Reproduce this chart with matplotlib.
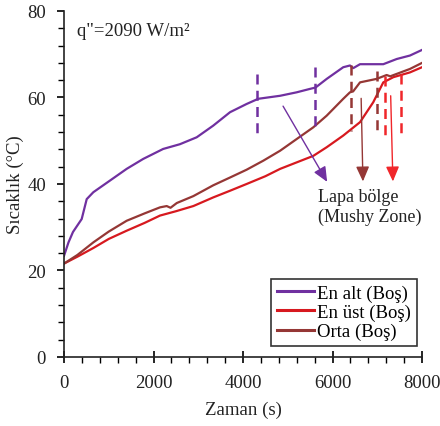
import matplotlib
matplotlib.use("Agg")
import matplotlib.pyplot as plt
from matplotlib.ticker import MultipleLocator

plt.rcParams['font.family'] = ['Liberation Serif', 'DejaVu Serif']

# En alt (Boş) - purple
t_alt = [0, 100, 200, 395, 507, 655, 1028, 1400, 1770, 2215, 2590, 2965, 3335, 3710, 4080,
         4340, 4830, 5200, 5500, 5620, 5870, 6240, 6390, 6465, 6615, 7135, 7435, 7730, 8000]
T_alt = [23.4, 26.5, 28.9, 31.9, 36.5, 38.1, 40.8, 43.5, 45.8, 48.1, 49.2, 50.8, 53.5, 56.6, 58.5,
         59.7, 60.4, 61.2, 62.0, 62.3, 64.3, 67.0, 67.4, 66.8, 67.7, 67.7, 68.9, 69.7, 71.0]

# En üst (Boş) - red
t_ust = [0, 300, 655, 1000, 1400, 1800, 2145, 2500, 2890, 3335, 3700, 4080, 4500, 4830, 5200,
         5570, 5870, 6240, 6615, 6910, 7135, 7360, 7730, 8000]
T_ust = [21.6, 23.2, 25.2, 27.3, 29.2, 31.0, 32.7, 33.7, 34.9, 36.9, 38.4, 40.0, 41.8, 43.5, 45.0,
         46.5, 48.5, 51.2, 54.3, 58.9, 63.5, 64.7, 65.8, 67.0]

# Orta (Boş) - brown
t_orta = [0, 300, 655, 1000, 1400, 1800, 2145, 2295, 2380, 2520, 2890, 3335, 3710, 4080, 4455,
          4830, 5200, 5570, 5870, 6240, 6390, 6460, 6615, 6985, 7210, 7290, 7730, 8000]
T_orta = [21.6, 23.6, 26.5, 29.0, 31.5, 33.2, 34.6, 34.9, 34.5, 35.6, 37.2, 39.7, 41.5, 43.3, 45.4,
          47.7, 50.4, 53.1, 55.8, 59.7, 61.2, 61.4, 63.5, 64.3, 65.2, 64.9, 66.6, 68.0]

# Mushy zone boundaries (dashed): (time, T_top, T_bottom)
dash_alt = [(4310, 65.4, 50.8), (5610, 67.0, 52.3)]
dash_orta = [(6410, 67.4, 52.3), (6985, 66.2, 51.6)]
dash_ust = [(7170, 65.0, 50.0), (7530, 65.4, 50.4)]

# Arrows: (t_start, T_start, t_end, T_end)
arr_alt = (4895, 58.0, 5880, 40.5)
arr_orta = (6640, 59.8, 6680, 40.6)
arr_ust = (7300, 60.4, 7350, 40.6)

c_alt = '#7030A0'
c_ust = '#D7191F'
c_orta = '#953735'
c_ust_dash = '#F0262A'
c_text = '#222222'
fs = 13.5

fig = plt.figure(figsize=(4.4, 4.27), dpi=100)
ax = fig.add_axes([0.1455, 0.1616, 0.8136, 0.8103])

ax.plot(t_alt, T_alt, color=c_alt, lw=1.6, label='En alt (Boş)')
ax.plot(t_ust, T_ust, color=c_ust, lw=1.6, label='En üst (Boş)')
ax.plot(t_orta, T_orta, color=c_orta, lw=1.6, label='Orta (Boş)')

for lst, col in [(dash_alt, c_alt), (dash_orta, c_orta), (dash_ust, c_ust_dash)]:
    for t, a, b in lst:
        ax.plot([t, t], [a, b], color=col, lw=1.8, ls=(0, (4, 2.5)))

for (x0, y0, x1, y1), col in [(arr_alt, c_alt), (arr_orta, c_orta), (arr_ust, c_ust_dash)]:
    ax.annotate('', xy=(x1, y1), xytext=(x0, y0),
                arrowprops=dict(arrowstyle='-|>,head_length=0.9,head_width=0.4',
                                color=col, lw=1.0, shrinkA=0, shrinkB=0))

ax.text(290, 75.4, 'q"=2090 W/m²', fontsize=fs, va='center', ha='left', color=c_text)
ax.text(5675, 37.2, 'Lapa bölge', fontsize=13, va='center', ha='left', color=c_text)
ax.text(5675, 32.6, '(Mushy Zone)', fontsize=13, va='center', ha='left', color=c_text)

ax.set_xlim(0, 8000)
ax.set_ylim(0, 80)
ax.xaxis.set_major_locator(MultipleLocator(2000))
ax.xaxis.set_minor_locator(MultipleLocator(400))
ax.yaxis.set_major_locator(MultipleLocator(20))
ax.yaxis.set_minor_locator(MultipleLocator(4))
ax.tick_params(axis='x', which='major', direction='inout', length=9, width=1.2,
               labelsize=fs, pad=8, labelcolor=c_text)
ax.tick_params(axis='x', which='minor', direction='out', length=4, width=1)
ax.tick_params(axis='y', which='major', direction='out', length=5, width=1.2,
               labelsize=fs, pad=8, labelcolor=c_text)
ax.tick_params(axis='y', which='minor', direction='out', length=4, width=1)
for s in ['top', 'right']:
    ax.spines[s].set_visible(False)
for s in ['left', 'bottom']:
    ax.spines[s].set_linewidth(1.2)
    ax.spines[s].set_color('#222222')

ax.set_xlabel('Zaman (s)', fontsize=fs, labelpad=7, color=c_text)
ax.set_ylabel('Sıcaklık (°C)', fontsize=fs, labelpad=2, color=c_text)

leg = ax.legend(loc='lower right', bbox_to_anchor=(0.985, 0.032), fontsize=fs,
                frameon=True, fancybox=False, edgecolor='black', handlelength=2.0,
                handletextpad=0.15, borderpad=0.3, labelspacing=0.1, borderaxespad=0)
leg.get_frame().set_linewidth(1.2)
for line in leg.get_lines():
    line.set_linewidth(2.2)

fig.savefig('out.png', dpi=100)
